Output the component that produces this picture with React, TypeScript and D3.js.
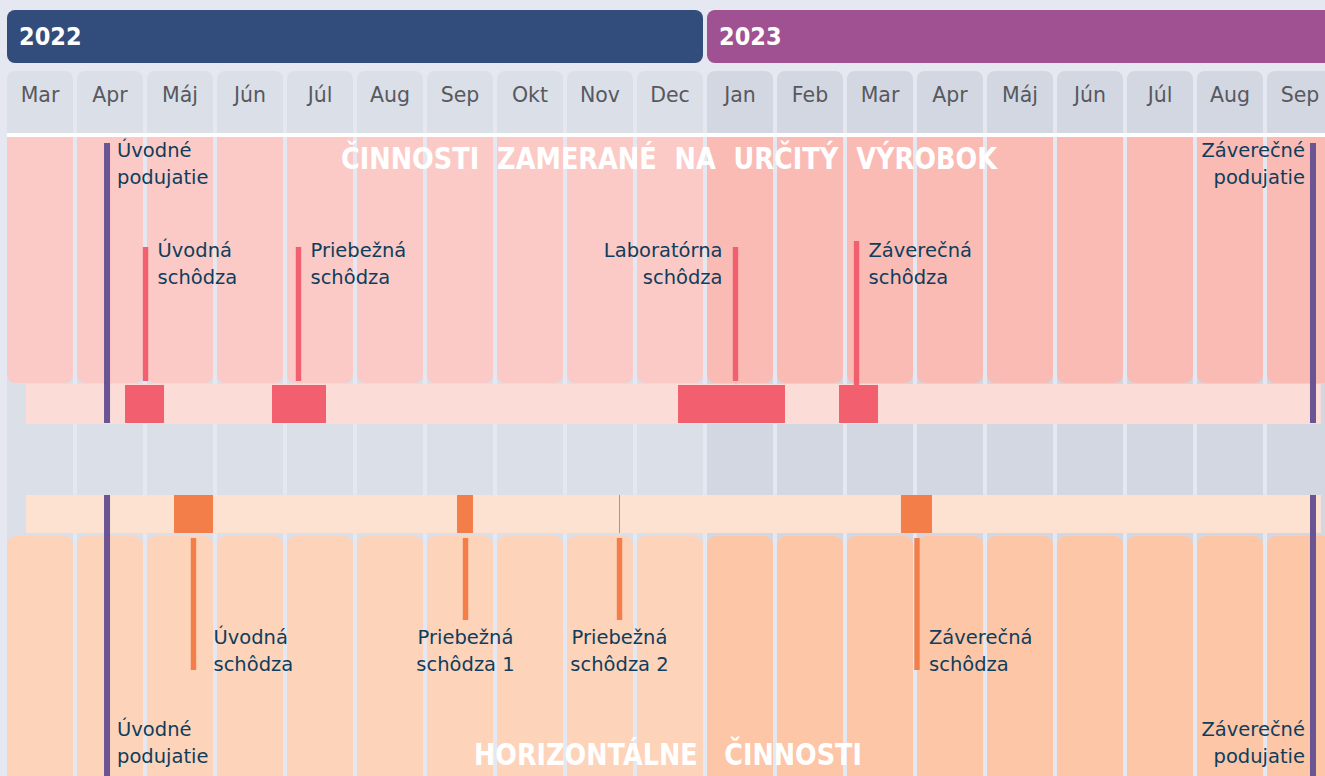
import React from "react";
import * as d3 from "d3";

const W = 1325;
const H = 776;

const years = [
  { label: "2022", start: 0, end: 10, color: "#324d7b" },
  { label: "2023", start: 10, end: 19.5, color: "#a05192" },
];

const months = ["Mar", "Apr", "Máj", "Jún", "Júl", "Aug", "Sep", "Okt", "Nov", "Dec", "Jan", "Feb", "Mar", "Apr", "Máj", "Jún", "Júl", "Aug", "Sep"];
const monthYear = [0, 0, 0, 0, 0, 0, 0, 0, 0, 0, 1, 1, 1, 1, 1, 1, 1, 1, 1];

// timeline bar extents (month index)
const barStart = 0.27;
const barEnd = 18.77;

// blocks on the product-specific bar [start, end] in month index
const productBlocks: [number, number][] = [
  [1.686, 2.243],
  [3.786, 4.557],
  [9.586, 11.114],
  [11.886, 12.443],
];
// blocks on the horizontal bar
const horizontalBlocks: [number, number][] = [
  [2.386, 2.943],
  [6.429, 6.657],
  [8.743, 8.757],
  [12.771, 13.214],
];

const productMilestones = [
  { at: 1.979, lines: ["Úvodná", "schôdza"], align: "left" },
  { at: 4.164, lines: ["Priebežná", "schôdza"], align: "left" },
  { at: 10.407, lines: ["Laboratórna", "schôdza"], align: "right" },
  { at: 12.136, lines: ["Záverečná", "schôdza"], align: "left" },
];
const horizontalMilestones = [
  { at: 2.664, lines: ["Úvodná", "schôdza"], align: "left", long: true },
  { at: 6.55, lines: ["Priebežná", "schôdza 1"], align: "center", long: false },
  { at: 8.75, lines: ["Priebežná", "schôdza 2"], align: "center", long: false },
  { at: 13.0, lines: ["Záverečná", "schôdza"], align: "left", long: true },
];
const events = [
  { at: 1.429, lines: ["Úvodné", "podujatie"], align: "left" },
  { at: 18.657, lines: ["Záverečné", "podujatie"], align: "right" },
];

const titleTop = "ČINNOSTI  ZAMERANÉ  NA  URČITÝ  VÝROBOK";
const titleBottom = "HORIZONTÁLNE   ČINNOSTI";

const FONT = "'DejaVu Sans', sans-serif";
const LABEL = "#0f3d5c";

export default function App() {
  const x = d3.scaleLinear().domain([0, 19]).range([7, 7 + 70 * 19]);
  const cellW = 66;

  const roundedBottom = (x0: number, y0: number, w: number, h: number, r: number) =>
    `M${x0},${y0}H${x0 + w}V${y0 + h - r}Q${x0 + w},${y0 + h} ${x0 + w - r},${y0 + h}H${x0 + r}Q${x0},${y0 + h} ${x0},${y0 + h - r}Z`;

  const anchor = (a: string) => (a === "right" ? "end" : a === "center" ? "middle" : "start");
  const LFS = 19.5;

  return (
    <svg width={W} height={H} style={{ position: "absolute", left: 0, top: 0, display: "block" }} fontFamily={FONT}>
      <rect x={0} y={0} width={W} height={H} fill="#e5e8f1" />
      {/* year bars */}
      {years.map((y) => (
        <g key={y.label}>
          <rect x={x(y.start)} y={10} width={x(y.end) - x(y.start) - 4} height={53} rx={8} fill={y.color} />
          <text x={x(y.start) + 12} y={45} fill="#fff" fontSize={25} fontWeight="bold" fontFamily="'DejaVu Sans Condensed', 'DejaVu Sans', sans-serif" fontStretch="condensed">
            {y.label}
          </text>
        </g>
      ))}
      {/* month columns */}
      {months.map((m, i) => (
        <g key={i}>
          <rect x={x(i)} y={71} width={cellW} height={H} rx={8} fill={monthYear[i] ? "#d3d7e1" : "#dbdfe8"} />
          <text x={x(i) + cellW / 2} y={102} textAnchor="middle" fontSize={20.5} fill="#57595e">
            {m}
          </text>
        </g>
      ))}
      {/* white separator */}
      <rect x={7} y={133} width={W} height={4} fill="#ffffff" />
      {/* pink cells */}
      {months.map((m, i) => (
        <path key={"p" + i} d={roundedBottom(x(i), 137, cellW, 246, 9)} fill={monthYear[i] ? "#fabbb5" : "#fbcac6"} />
      ))}
      {/* orange cells */}
      {months.map((m, i) => (
        <rect key={"o" + i} x={x(i)} y={536} width={cellW} height={H} rx={9} fill={monthYear[i] ? "#fcc6a7" : "#fdd3ba"} />
      ))}
      {/* light bars */}
      <rect x={x(barStart)} y={384} width={x(barEnd) - x(barStart)} height={40} fill="#fbdcd7" />
      <rect x={x(barStart)} y={495} width={x(barEnd) - x(barStart)} height={38} fill="#fde1d1" />
      {/* blocks */}
      {productBlocks.map(([a, b], i) => (
        <rect key={"pb" + i} x={x(a)} y={385} width={x(b) - x(a)} height={38} fill="#f25f6e" />
      ))}
      {horizontalBlocks.map(([a, b], i) => (
        <rect key={"hb" + i} x={x(a)} y={495} width={Math.max(1, x(b) - x(a))} height={38} fill="#f47e4a" />
      ))}
      {/* titles */}
      <text x={341} y={169} textLength={656} lengthAdjust="spacingAndGlyphs" fontSize={30} fontWeight="bold" fill="#ffffff" style={{ whiteSpace: "pre" }}>
        {titleTop}
      </text>
      <text x={474} y={765} textLength={388} lengthAdjust="spacingAndGlyphs" fontSize={30} fontWeight="bold" fill="#ffffff" style={{ whiteSpace: "pre" }}>
        {titleBottom}
      </text>
      {/* product milestones */}
      {productMilestones.map((m, i) => {
        const cx = x(m.at);
        const top = m.lines[0] === "Záverečná" ? 241 : 247;
        const bottom = m.lines[0] === "Záverečná" ? 385 : 381;
        const tx = m.align === "right" ? cx - 13 : cx + 12;
        return (
          <g key={"pm" + i}>
            <rect x={cx - 2.7} y={top} width={5.4} height={bottom - top} fill="#f25f6e" />
            {m.lines.map((l, j) => (
              <text key={j} x={tx} y={257 + j * 27} textAnchor={anchor(m.align)} fontSize={LFS} fill={LABEL}>
                {l}
              </text>
            ))}
          </g>
        );
      })}
      {/* horizontal milestones */}
      {horizontalMilestones.map((m, i) => {
        const cx = x(m.at);
        const bottom = m.long ? 670 : 620;
        const tx = m.align === "center" ? cx : cx + 20;
        const tx2 = m.lines[0] === "Záverečná" ? cx + 12 : tx;
        return (
          <g key={"hm" + i}>
            <rect x={cx - 2.7} y={538} width={5.4} height={bottom - 538} fill="#f47e4a" />
            {m.lines.map((l, j) => (
              <text key={j} x={tx2} y={644 + j * 27} textAnchor={anchor(m.align)} fontSize={LFS} fill={LABEL}>
                {l}
              </text>
            ))}
          </g>
        );
      })}
      {/* events */}
      {events.map((e, i) => {
        const cx = x(e.at);
        const tx = e.align === "right" ? cx - 8 : cx + 10;
        return (
          <g key={"ev" + i}>
            <rect x={cx - 3} y={143} width={6} height={280} fill="#6a5494" />
            <rect x={cx - 3} y={495} width={6} height={H - 495} fill="#6a5494" />
            {e.lines.map((l, j) => (
              <text key={"t" + j} x={tx} y={157 + j * 27} textAnchor={anchor(e.align)} fontSize={LFS} fill={LABEL}>
                {l}
              </text>
            ))}
            {e.lines.map((l, j) => (
              <text key={"b" + j} x={tx} y={736 + j * 27} textAnchor={anchor(e.align)} fontSize={LFS} fill={LABEL}>
                {l}
              </text>
            ))}
          </g>
        );
      })}
    </svg>
  );
}
